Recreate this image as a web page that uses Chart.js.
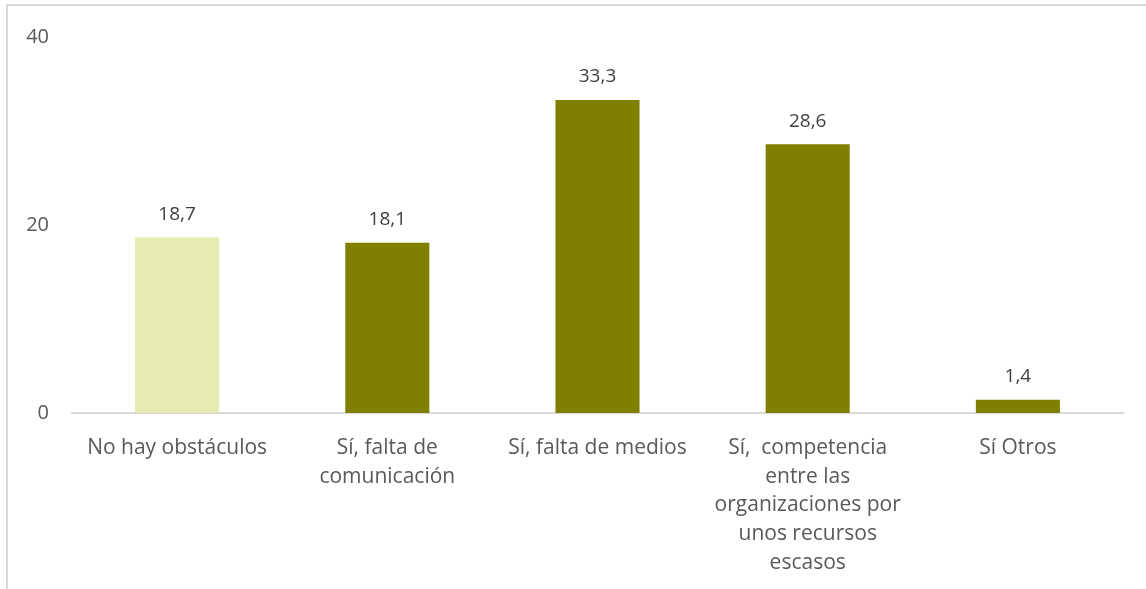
<!DOCTYPE html>
<html>
<head>
<meta charset="utf-8">
<script src="https://cdn.jsdelivr.net/npm/chart.js@4"></script>
<style>
  html, body { margin: 0; padding: 0; background: #fff; overflow: hidden; }
  #frame {
    position: absolute; left: 6px; top: 4px;
    width: 1150px; height: 600px;
    border: 2px solid #d9d9d9;
  }
  #wrap { position: absolute; left: 0; top: 0; width: 1138px; height: 583px; }
</style>
</head>
<body>
<div id="frame">
  <div id="wrap"><canvas id="obsChart"></canvas></div>
</div>
<script>
// categories (wrapped like the original axis labels)
const categories = [
    ["No hay obstáculos"],
    ["Sí, falta de", "comunicación"],
    ["Sí, falta de medios"],
    ["Sí,  competencia", "entre las", "organizaciones por", "unos recursos", "escasos"],
    ["Sí Otros"]
];
const values = [18.7, 18.1, 33.3, 28.6, 1.4];
const barColors = ["#e5ebb2", "#808000", "#808000", "#808000", "#808000"];
const yTicks = [0, 20, 40];

const FONT = "'Open Sans', 'Noto Sans', sans-serif";

// value labels above each bar, Spanish decimal comma
const valueLabels = {
    id: "valueLabels",
    afterDatasetsDraw(chart) {
        const ctx = chart.ctx;
        const meta = chart.getDatasetMeta(0);
        ctx.save();
        ctx.font = "19px " + FONT;
        ctx.fillStyle = "#404040";
        ctx.textAlign = "center";
        ctx.textBaseline = "middle";
        meta.data.forEach(function(bar, i) {
            ctx.fillText(values[i].toFixed(1).replace(".", ","), bar.x, bar.y - 23);
        });
        ctx.restore();
    }
};

const ctx = document.getElementById("obsChart").getContext("2d");
const obsChart = new Chart(ctx, {
    type: "bar",
    data: {
        labels: categories,
        datasets: [{
            data: values,
            backgroundColor: barColors,
            barPercentage: 0.4,
            categoryPercentage: 1.0
        }]
    },
    options: {
        responsive: true,
        maintainAspectRatio: false,
        animation: false,
        layout: { padding: { top: 31, right: 23, left: 0, bottom: 0 } },
        plugins: {
            legend: { display: false },
            tooltip: { enabled: false }
        },
        scales: {
            x: {
                grid: { display: false, drawTicks: false },
                border: { display: true, color: "#d9d9d9", width: 2 },
                ticks: {
                    color: "#595959",
                    font: { family: FONT, size: 21, lineHeight: 1.36 },
                    padding: 21,
                    maxRotation: 0,
                    autoSkip: false
                },
                afterFit(scale) { scale.height = 176; }
            },
            y: {
                min: 0,
                max: 40,
                afterBuildTicks(scale) {
                    scale.ticks = yTicks.map(v => ({ value: v }));
                },
                // tick marks hidden; tickLength only spaces labels from the plot
                grid: { display: false, drawTicks: true, tickLength: 23 },
                border: { display: false },
                ticks: {
                    color: "#595959",
                    font: { family: FONT, size: 20 },
                    padding: 0
                },
                afterFit(scale) { scale.width = 64; }
            }
        }
    },
    plugins: [valueLabels]
});
</script>
</body>
</html>
